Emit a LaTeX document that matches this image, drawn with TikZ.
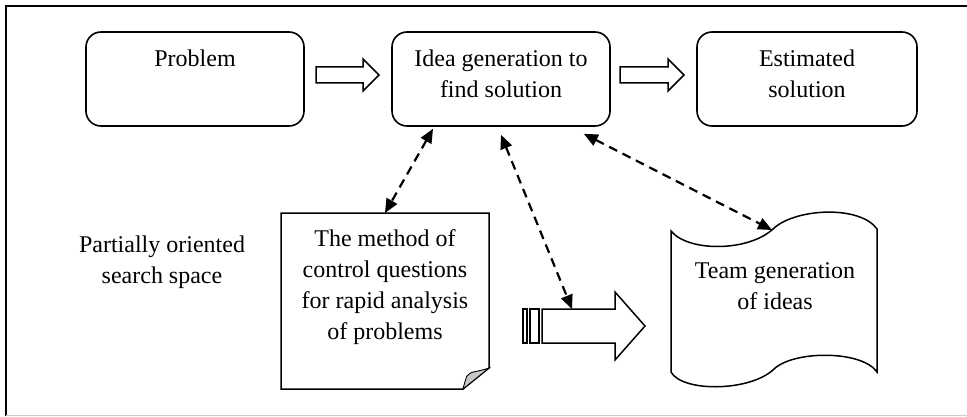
\documentclass[tikz,border=0pt]{standalone}
\usepackage{fontspec}
\setmainfont{Liberation Serif}
\usetikzlibrary{arrows.meta,calc}
\begin{document}
\begin{tikzpicture}[x=1pt,y=-1pt,
  box/.style={draw, line width=1.6pt, rounded corners=15pt, inner sep=0pt},
  txt/.style={font=\fontsize{24}{31}\selectfont, align=center, inner sep=0pt, anchor=base},
  dasharr/.style={line width=2.2pt, dash pattern=on 9pt off 6pt,
     {Triangle[length=14pt,width=12pt]}-{Triangle[length=14pt,width=12pt]}},
  outl/.style={draw, line width=1.5pt, fill=white, line join=miter},
  ghost/.style={inner sep=0pt, outer sep=0pt}]
\useasboundingbox (0,0) rectangle (967,417);
% frame
\draw[line width=1.6pt] (6,416) -- (6,6) -- (967,6);
\draw[line width=1pt, black!20] (6,415.5) -- (967,415.5);
% top boxes
\node[box, minimum width=218pt, minimum height=94pt] (prob) at (195,79) {};
\node[box, minimum width=218pt, minimum height=94pt] (idea) at (501,79) {};
\node[box, minimum width=220pt, minimum height=94pt] (est) at (807,79) {};
\node[txt] (probt) at (195,67) {Problem};
\node[txt] (ideat) at (501,98) {Idea generation to\\find solution};
\node[txt] (estt) at (807,98) {Estimated\\solution};
% hollow arrows
\draw[outl] (316,67) -- (363,67) -- (363,59) -- (379,75) -- (363,91) -- (363,83) -- (316,83) -- cycle;
\draw[outl] (620,67) -- (668,67) -- (668,59) -- (684,75) -- (668,91) -- (668,83) -- (620,83) -- cycle;
% left label
\node[txt] (space) at (162,283) {Partially oriented\\search space};
% document shape
\node[ghost, minimum width=208pt, minimum height=176pt] (doc) at (385,301) {};
\draw[outl] (doc.north west) -- (doc.north east) -- ($(doc.south east)+(0,-21)$)
   -- ($(doc.south east)+(-26,0)$) -- (doc.south west) -- cycle;
\filldraw[fill=black!22, draw=black, line width=0.9pt] ($(doc.south east)+(0,-21)$)
   .. controls (478,372) and (470,371) .. (467,376)
   .. controls (465,381) and (464,385) .. ($(doc.south east)+(-26,0)$) -- cycle;
\node[txt] (doct) at (385,339) {The method of\\control questions\\for rapid analysis\\of problems};
% tape shape
\node[ghost, minimum width=206pt, minimum height=150pt] (tape) at (774,300) {};
\draw[outl] (671,231) .. controls (688,252) and (748,252) .. (773,229)
   .. controls (795,208) and (860,205) .. (877,229)
   -- (877,372) .. controls (862,350) and (792,350) .. (773,370)
   .. controls (748,392) and (682,392) .. (671,372) -- cycle;
\coordinate (tapetop) at (772,230);
\node[txt] (teamt) at (775,309) {Team generation\\of ideas};
% striped block arrow
\draw[outl] (523,309) rectangle (527,343);
\draw[outl] (530,309) rectangle (539,343);
\draw[outl] (542,309) -- (615,309) -- (615,292) -- (645,326) -- (615,360) -- (615,343) -- (542,343) -- cycle;
\coordinate (barr) at (572,309);
% dashed connectors
\draw[dasharr] ([xshift=-68pt,yshift=-2pt]idea.south) -- (doc.north);
\draw[dasharr] ([yshift=-8pt]idea.south) -- (barr);
\draw[dasharr] ([xshift=-27pt,yshift=-7pt]idea.south east) -- (tapetop);
\end{tikzpicture}
\end{document}
